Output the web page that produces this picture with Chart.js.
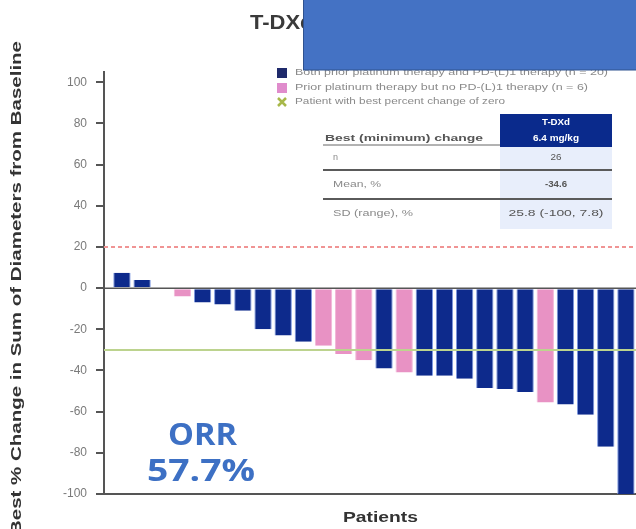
<!DOCTYPE html>
<html>
<head>
<meta charset="utf-8">
<script src="https://cdn.jsdelivr.net/npm/chart.js@4"></script>
<style>
  html, body { margin: 0; padding: 0; background: #fff; }
  #wrap { width: 636px; height: 529px; position: relative; }
</style>
</head>
<body>
<div id="wrap"><canvas id="waterfall"></canvas></div>
<script>
// datos
const pacientes = [1, 2, 3, 4, 5, 6, 7, 8, 9, 10, 11, 12, 13, 14, 15, 16, 17, 18, 19, 20, 21, 22, 23, 24, 25, 26];
const cambios = [7.5, 4, 0, -4, -7, -8, -11, -20, -23, -26, -28, -32, -35, -39, -41, -42.5, -42.5, -44, -48.5, -49, -50.5, -55.5, -56.5, -61.5, -77, -100];
// B = platino + PD-(L)1, P = solo platino, Z = cambio cero
const grupos = ["B", "B", "Z", "P", "B", "B", "B", "B", "B", "B", "P", "P", "P", "B", "P", "B", "B", "B", "B", "B", "B", "P", "B", "B", "B", "B"];
const yTicks = [100, 80, 60, 40, 20, 0, -20, -40, -60, -80, -100];
const lineaProgresion = 20;
const lineaRespuesta = -30;

const leyendaTextos = [
  "Both prior platinum therapy and PD-(L)1 therapy (n = 20)",
  "Prior platinum therapy but no PD-(L)1 therapy (n = 6)",
  "Patient with best percent change of zero"
];
const tablaCabecera = ["Best (minimum) change", "T-DXd", "6.4 mg/kg"];
const tablaFilas = [
  ["n", "26"],
  ["Mean, %", "-34.6"],
  ["SD (range), %", "25.8 (-100, 7.8)"]
];
const orr = ["ORR", "57.7%"];

const colorAzul = "#0d2a8c";
const colorRosa = "#e892c4";
const xMin = -0.89, xMax = 25.5;

function textoAjustado(ctx, texto, x, y, ancho) {
  const w = ctx.measureText(texto).width;
  ctx.save();
  ctx.translate(x, y);
  ctx.scale(ancho / w, 1);
  ctx.textAlign = "left";
  ctx.fillText(texto, 0, 0);
  ctx.restore();
}

const adornos = {
  id: "adornos",
  afterDraw(chart) {
    const ctx = chart.ctx;
    ctx.save();
    ctx.textBaseline = "middle";

    // titulo del eje y
    ctx.save();
    ctx.translate(17, 288);
    ctx.rotate(-Math.PI / 2);
    ctx.fillStyle = "#333";
    ctx.font = "bold 14px 'Liberation Sans', Arial, sans-serif";
    textoAjustado(ctx, "Best % Change in Sum of Diameters from Baseline", -247, 0, 494);
    ctx.restore();

    // titulo del eje x
    ctx.fillStyle = "#333";
    ctx.font = "bold 15px 'Liberation Sans', Arial, sans-serif";
    textoAjustado(ctx, "Patients", 343, 518, 75);

    // titulo (tapado por el rectangulo)
    ctx.font = "bold 20px 'Liberation Sans', Arial, sans-serif";
    ctx.fillStyle = "#3a3a3a";
    ctx.save();
    ctx.translate(250, 23);
    ctx.scale(1.1, 1);
    ctx.fillText("T-DXd", 0, 0);
    ctx.restore();

    // leyenda
    const filasLey = [73, 88, 102];
    const anchosLey = [313, 293, 210];
    ctx.font = "9px 'Liberation Sans', Arial, sans-serif";
    filasLey.forEach((y, i) => {
      if (i === 0) { ctx.fillStyle = "#1f2a6b"; ctx.fillRect(277, y - 5, 10, 10); }
      if (i === 1) { ctx.fillStyle = "#e08ccc"; ctx.fillRect(277, y - 5, 10, 10); }
      if (i === 2) {
        ctx.strokeStyle = "#a8b84a"; ctx.lineWidth = 2.5;
        ctx.beginPath();
        ctx.moveTo(278, y - 4); ctx.lineTo(286, y + 4);
        ctx.moveTo(286, y - 4); ctx.lineTo(278, y + 4);
        ctx.stroke();
      }
      ctx.fillStyle = "#8a8a8a";
      textoAjustado(ctx, leyendaTextos[i], 295, y, anchosLey[i]);
    });

    // tabla
    ctx.fillStyle = "#e8eefb";
    ctx.fillRect(500, 147, 112, 82);
    ctx.fillStyle = "#0a2a8c";
    ctx.fillRect(500, 114, 112, 33);
    ctx.fillStyle = "#fff";
    ctx.font = "bold 9px 'Liberation Sans', Arial, sans-serif";
    textoAjustado(ctx, tablaCabecera[1], 542, 123, 28);
    textoAjustado(ctx, tablaCabecera[2], 533, 139, 46);
    ctx.fillStyle = "#555";
    ctx.font = "bold 9px 'Liberation Sans', Arial, sans-serif";
    textoAjustado(ctx, tablaCabecera[0], 325, 139, 158);
    ctx.strokeStyle = "#666";
    ctx.lineWidth = 1;
    ctx.beginPath(); ctx.moveTo(323, 145); ctx.lineTo(500, 145); ctx.stroke();
    ctx.lineWidth = 2;
    ctx.strokeStyle = "#5a5a5a";
    [170, 199].forEach(y => {
      ctx.beginPath(); ctx.moveTo(323, y); ctx.lineTo(612, y); ctx.stroke();
    });
    const yFilas = [158, 185, 214];
    const anchosEtq = [5, 48, 80];
    const anchosVal = [11, 22, 95];
    tablaFilas.forEach((fila, i) => {
      ctx.fillStyle = "#8a8a8a";
      ctx.font = "9px 'Liberation Sans', Arial, sans-serif";
      textoAjustado(ctx, fila[0], 333, yFilas[i], anchosEtq[i]);
      ctx.fillStyle = "#555";
      ctx.font = (i === 1 ? "bold " : "") + "9px 'Liberation Sans', Arial, sans-serif";
      textoAjustado(ctx, fila[1], 556 - anchosVal[i] / 2, yFilas[i], anchosVal[i]);
    });

    // rectangulo azul que tapa el titulo
    ctx.fillStyle = "#4472c4";
    ctx.fillRect(303, 0, 333, 70);
    ctx.strokeStyle = "#2f528f";
    ctx.lineWidth = 1;
    ctx.strokeRect(303.5, -1, 334, 71);

    // ORR
    ctx.fillStyle = "#3d70c4";
    ctx.font = "bold 31px 'Open Sans', 'Liberation Sans', sans-serif";
    textoAjustado(ctx, orr[0], 168, 436, 69);
    textoAjustado(ctx, orr[1], 147, 472, 108);

    ctx.restore();
  }
};

function lineaRef(valor) {
  return [{ x: xMin, y: valor }, { x: xMax, y: valor }];
}

new Chart(document.getElementById("waterfall"), {
  data: {
    datasets: [
      {
        type: "line",
        data: lineaRef(lineaProgresion),
        borderColor: "#f09494",
        borderWidth: 2,
        borderDash: [4, 3],
        pointRadius: 0,
        order: 0
      },
      {
        type: "line",
        data: lineaRef(lineaRespuesta),
        borderColor: "#bcd38e",
        borderWidth: 2,
        pointRadius: 0,
        order: 0
      },
      {
        type: "line",
        data: lineaRef(0),
        borderColor: "#555",
        borderWidth: 1.5,
        pointRadius: 0,
        order: 0
      },
      {
        type: "bar",
        data: cambios.map((v, i) => ({ x: i, y: v })),
        backgroundColor: grupos.map(g => g === "P" ? colorRosa : colorAzul),
        borderColor: grupos.map(g => g === "P" ? "#f2b6d8" : "#7d98e0"),
        borderWidth: { left: 1, right: 1, top: 0, bottom: 0 },
        borderSkipped: false,
        barPercentage: 0.86,
        categoryPercentage: 1,
        order: 1
      }
    ]
  },
  options: {
    responsive: true,
    maintainAspectRatio: false,
    animation: false,
    layout: { padding: { top: 72, left: 0, right: 0, bottom: 0 } },
    plugins: {
      legend: { display: false },
      tooltip: { enabled: false }
    },
    scales: {
      x: {
        type: "linear",
        offset: false,
        min: xMin,
        max: xMax,
        ticks: { display: false },
        grid: { display: false, offset: false },
        border: { display: true, color: "#555", width: 2 },
        afterFit: s => { s.height = 35; }
      },
      y: {
        min: -100,
        max: 105,
        afterBuildTicks: s => { s.ticks = yTicks.map(v => ({ value: v })); },
        ticks: {
          color: "#7a7a7a",
          font: { size: 12, family: "'Liberation Sans', Arial, sans-serif" },
          padding: 9
        },
        grid: {
          drawOnChartArea: false,
          drawTicks: true,
          tickLength: 8,
          tickColor: "#555",
          lineWidth: 2
        },
        border: { display: true, color: "#555", width: 2 },
        afterFit: s => { s.width = 104; }
      }
    }
  },
  plugins: [adornos]
});
</script>
</body>
</html>
